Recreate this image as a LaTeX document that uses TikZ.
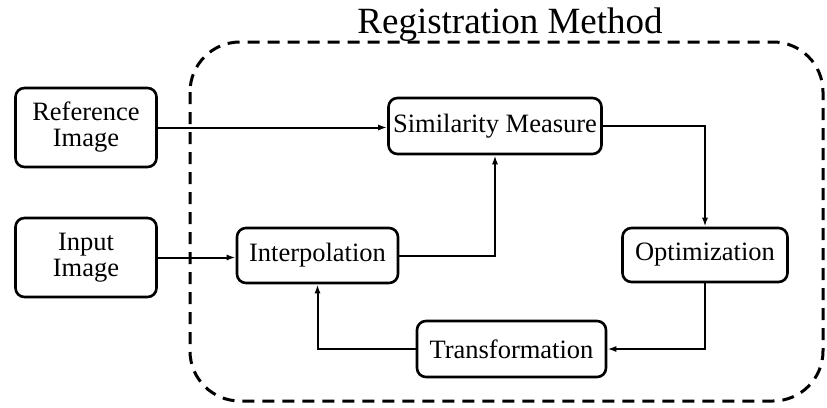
\documentclass[tikz,border=0pt]{standalone}
\usepackage{fontspec}
\setmainfont{Liberation Serif}
\usetikzlibrary{positioning,arrows.meta,calc}

\begin{document}
\begin{tikzpicture}[
      x=1pt, y=-1pt,
      stage/.style={draw=black,line width=2.6pt,rounded corners=9pt,fill=white,
        align=center,inner sep=2pt,font=\fontsize{26.5}{26}\selectfont},
      edge/.style={-{Latex[length=9pt,width=6pt]},line width=2pt},
      regionbox/.style={dashed,line width=3pt,dash pattern=on 12pt off 8pt,rounded corners=50pt}
    ]
    \useasboundingbox (0,0) rectangle (827,407);
    % registration method frame
    \draw[regionbox] (190,42) rectangle (823,401);
    \node[anchor=base,font=\fontsize{37}{38}\selectfont] (title) at (510,33) {Registration Method};
    % inputs
    \node[stage,minimum width=141pt,minimum height=79pt] (ref) at (86,127.5) {Reference\\Image};
    \node[stage,minimum width=141pt,minimum height=79pt] (inp) at (86,257.5) {Input\\Image};
    % stages
    \node[stage,minimum width=213pt,minimum height=56pt] (sim) at (495,126) {Similarity Measure};
    \node[stage,minimum width=161pt,minimum height=55pt] (interp) at (317.5,255.5) {Interpolation};
    \node[stage,minimum width=165pt,minimum height=54pt] (opt) at (705,255) {Optimization};
    \node[stage,minimum width=189pt,minimum height=56pt] (trans) at (511.5,349) {Transformation};
    \draw[edge] (ref.east) -- (ref.east -| sim.west);
    \draw[edge] (inp.east) -- (inp.east -| interp.west);
    \draw[edge] (interp.east) -| (sim.south);
    \draw[edge] (sim.east) -| (opt.north);
    \draw[edge] (opt.south) |- (trans.east);
    \draw[edge] (trans.west) -| (interp.south);
  \end{tikzpicture}
\end{document}
